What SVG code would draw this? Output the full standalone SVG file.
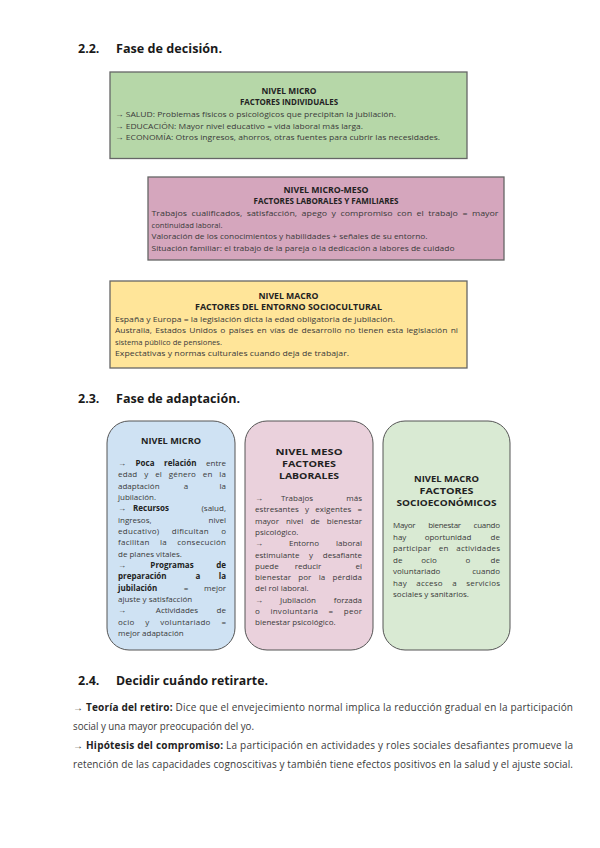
<svg xmlns="http://www.w3.org/2000/svg" width="600" height="848" viewBox="0 0 600 848">
<style>
text{font-family:"Open Sans","Noto Sans","Liberation Sans",sans-serif;fill:#3a3a3a}
.hd{font-size:12.5px;font-weight:bold;fill:#1a1a1a}
.b{font-size:8px}
.h{font-size:8px;font-weight:bold;fill:#222}
.h2{font-size:9.5px;font-weight:bold;fill:#222}
.bb{font-weight:bold;fill:#222}
.p{font-size:10px}
.m{text-anchor:middle}
.e{text-anchor:end}
.box{stroke:#666;stroke-width:1.3}
.rbox{stroke:#555;stroke-width:1}
</style>
<rect width="600" height="848" fill="#fff"/>

<g id="heading-2-2">
<text class="hd" x="78" y="52.5">2.2.</text>
<text class="hd" x="116" y="52.5" textLength="106" lengthAdjust="spacingAndGlyphs">Fase de decisión.</text>
</g>

<g id="nivel-micro">
<rect class="box" x="110" y="72" width="357" height="86.5" fill="#b6d7a8"/>
<text class="h m" x="289" y="94" textLength="55" lengthAdjust="spacingAndGlyphs">NIVEL MICRO</text>
<text class="h m" x="289" y="105" textLength="98" lengthAdjust="spacingAndGlyphs">FACTORES INDIVIDUALES</text>
<text class="b" x="115" y="117" textLength="281" lengthAdjust="spacingAndGlyphs">→ SALUD: Problemas físicos o psicológicos que precipitan la jubilación.</text>
<text class="b" x="115" y="128.5" textLength="248" lengthAdjust="spacingAndGlyphs">→ EDUCACIÓN: Mayor nivel educativo = vida laboral más larga.</text>
<text class="b" x="115" y="140" textLength="325" lengthAdjust="spacingAndGlyphs">→ ECONOMÍA: Otros ingresos, ahorros, otras fuentes para cubrir las necesidades.</text>
</g>

<g id="nivel-micro-meso">
<rect class="box" x="148" y="177" width="356" height="83" fill="#d5a6bd"/>
<text class="h m" x="326" y="193" textLength="85" lengthAdjust="spacingAndGlyphs">NIVEL MICRO-MESO</text>
<text class="h m" x="326" y="204" textLength="145" lengthAdjust="spacingAndGlyphs">FACTORES LABORALES Y FAMILIARES</text>
<text class="b" x="151.5" y="216" word-spacing="2" textLength="347" lengthAdjust="spacingAndGlyphs">Trabajos cualificados, satisfacción, apego y compromiso con el trabajo = mayor</text>
<text class="b" x="151.5" y="227.5" textLength="71" lengthAdjust="spacingAndGlyphs">continuidad laboral.</text>
<text class="b" x="151.5" y="239" textLength="276" lengthAdjust="spacingAndGlyphs">Valoración de los conocimientos y habilidades + señales de su entorno.</text>
<text class="b" x="151.5" y="250.5" textLength="303" lengthAdjust="spacingAndGlyphs">Situación familiar: el trabajo de la pareja o la dedicación a labores de cuidado</text>
</g>

<g id="nivel-macro">
<rect class="box" x="110" y="281" width="357" height="87" fill="#ffe599"/>
<text class="h m" x="288.5" y="299" textLength="60" lengthAdjust="spacingAndGlyphs">NIVEL MACRO</text>
<text class="h m" x="288.5" y="310" textLength="187" lengthAdjust="spacingAndGlyphs">FACTORES DEL ENTORNO SOCIOCULTURAL</text>
<text class="b" x="115" y="321.5" textLength="280" lengthAdjust="spacingAndGlyphs">España y Europa = la legislación dicta la edad obligatoria de jubilación.</text>
<text class="b" x="115" y="333" word-spacing="1" textLength="343" lengthAdjust="spacingAndGlyphs">Australia, Estados Unidos o países en vías de desarrollo no tienen esta legislación ni</text>
<text class="b" x="115" y="344.5" textLength="107" lengthAdjust="spacingAndGlyphs">sistema público de pensiones.</text>
<text class="b" x="115" y="356" textLength="234" lengthAdjust="spacingAndGlyphs">Expectativas y normas culturales cuando deja de trabajar.</text>
</g>

<g id="heading-2-3">
<text class="hd" x="78" y="402.5">2.3.</text>
<text class="hd" x="116" y="402.5" textLength="124" lengthAdjust="spacingAndGlyphs">Fase de adaptación.</text>
</g>

<g id="adapt-micro">
<rect class="rbox" x="107" y="421" width="128" height="229" rx="22" fill="#cfe2f3"/>
<text class="h2 m" x="171" y="443.5" textLength="60" lengthAdjust="spacingAndGlyphs">NIVEL MICRO</text>
<text class="b" x="118" y="466" word-spacing="7.5" textLength="108" lengthAdjust="spacing">→ <tspan class="bb">Poca relación</tspan> entre</text>
<text class="b" x="118" y="477.3" word-spacing="4.6" textLength="108" lengthAdjust="spacing">edad y el género en la</text>
<text class="b" x="118" y="488.7">adaptación</text><text class="b m" x="186" y="488.7">a</text><text class="b e" x="226" y="488.7">la</text>
<text class="b" x="118" y="500">jubilación.</text>
<text class="b" x="118" y="511.3">→</text><text class="b bb m" x="151" y="511.3">Recursos</text><text class="b e" x="226" y="511.3">(salud,</text>
<text class="b" x="118" y="522.7">ingresos,</text><text class="b e" x="226" y="522.7">nivel</text>
<text class="b" x="118" y="534" word-spacing="10" textLength="108" lengthAdjust="spacing">educativo) dificultan o</text>
<text class="b" x="118" y="545.3" word-spacing="8" textLength="108" lengthAdjust="spacing">facilitan la consecución</text>
<text class="b" x="118" y="556.7">de planes vitales.</text>
<text class="b" x="118" y="568">→</text><text class="b bb m" x="172" y="568">Programas</text><text class="b bb e" x="226" y="568">de</text>
<text class="b bb" x="118" y="579.3">preparación</text><text class="b bb m" x="198" y="579.3">a</text><text class="b bb e" x="226" y="579.3">la</text>
<text class="b bb" x="118" y="590.7">jubilación</text><text class="b m" x="186" y="590.7">=</text><text class="b e" x="226" y="590.7">mejor</text>
<text class="b" x="118" y="602">ajuste y satisfacción</text>
<text class="b" x="118" y="613.3">→</text><text class="b m" x="177" y="613.3">Actividades</text><text class="b e" x="226" y="613.3">de</text>
<text class="b" x="118" y="624.7" word-spacing="8.5" textLength="108" lengthAdjust="spacing">ocio y voluntariado =</text>
<text class="b" x="118" y="636">mejor adaptación</text>
</g>

<g id="adapt-meso">
<rect class="rbox" x="245" y="421" width="128" height="229" rx="22" fill="#ead1dc"/>
<text class="h2 m" x="309" y="454.5" textLength="67" lengthAdjust="spacingAndGlyphs">NIVEL MESO</text>
<text class="h2 m" x="309" y="466.5" textLength="54" lengthAdjust="spacingAndGlyphs">FACTORES</text>
<text class="h2 m" x="309" y="478.5" textLength="60" lengthAdjust="spacingAndGlyphs">LABORALES</text>
<text class="b" x="255" y="501">→</text><text class="b m" x="297" y="501">Trabajos</text><text class="b e" x="362" y="501">más</text>
<text class="b" x="255" y="512.3" word-spacing="4" textLength="107" lengthAdjust="spacing">estresantes y exigentes =</text>
<text class="b" x="255" y="523.6" word-spacing="5" textLength="107" lengthAdjust="spacing">mayor nivel de bienestar</text>
<text class="b" x="255" y="534.9">psicológico.</text>
<text class="b" x="255" y="546.2">→</text><text class="b m" x="304" y="546.2">Entorno</text><text class="b e" x="362" y="546.2">laboral</text>
<text class="b" x="255" y="557.5" word-spacing="7.5" textLength="107" lengthAdjust="spacing">estimulante y desafiante</text>
<text class="b" x="255" y="568.8">puede</text><text class="b m" x="308" y="568.8">reducir</text><text class="b e" x="362" y="568.8">el</text>
<text class="b" x="255" y="580.1" word-spacing="5" textLength="107" lengthAdjust="spacing">bienestar por la pérdida</text>
<text class="b" x="255" y="591.4">del rol laboral.</text>
<text class="b" x="255" y="602.7">→</text><text class="b" x="280" y="602.7">Jubilación</text><text class="b e" x="362" y="602.7">forzada</text>
<text class="b" x="255" y="614" word-spacing="8" textLength="107" lengthAdjust="spacing">o involuntaria = peor</text>
<text class="b" x="255" y="625.3">bienestar psicológico.</text>
</g>

<g id="adapt-macro">
<rect class="rbox" x="383" y="421" width="127" height="229" rx="22" fill="#d9ead3"/>
<text class="h2 m" x="446.5" y="481.5" textLength="65" lengthAdjust="spacingAndGlyphs">NIVEL MACRO</text>
<text class="h2 m" x="446.5" y="493.5" textLength="54" lengthAdjust="spacingAndGlyphs">FACTORES</text>
<text class="h2 m" x="446.5" y="505.5" textLength="100" lengthAdjust="spacingAndGlyphs">SOCIOECONÓMICOS</text>
<text class="b" x="393" y="528" word-spacing="11" textLength="107" lengthAdjust="spacing">Mayor bienestar cuando</text>
<text class="b" x="393" y="539.5">hay</text><text class="b m" x="448" y="539.5">oportunidad</text><text class="b e" x="500" y="539.5">de</text>
<text class="b" x="393" y="551" word-spacing="5.5" textLength="107" lengthAdjust="spacing">participar en actividades</text>
<text class="b" x="393" y="562.5">de</text><text class="b m" x="429" y="562.5">ocio</text><text class="b m" x="468" y="562.5">o</text><text class="b e" x="500" y="562.5">de</text>
<text class="b" x="393" y="574">voluntariado</text><text class="b e" x="500" y="574">cuando</text>
<text class="b" x="393" y="585.5" word-spacing="7" textLength="107" lengthAdjust="spacing">hay acceso a servicios</text>
<text class="b" x="393" y="597">sociales y sanitarios.</text>
</g>

<g id="heading-2-4">
<text class="hd" x="78" y="684.5">2.4.</text>
<text class="hd" x="116" y="684.5" textLength="152" lengthAdjust="spacingAndGlyphs">Decidir cuándo retirarte.</text>
</g>

<g id="paragraph">
<text class="p" x="73" y="710.5" textLength="500" lengthAdjust="spacing">→ <tspan class="bb">Teoría del retiro:</tspan> Dice que el envejecimiento normal implica la reducción gradual en la participación</text>
<text class="p" x="73" y="729.5" textLength="181" lengthAdjust="spacingAndGlyphs">social y una mayor preocupación del yo.</text>
<text class="p" x="73" y="748.5" textLength="500" lengthAdjust="spacing">→ <tspan class="bb">Hipótesis del compromiso:</tspan> La participación en actividades y roles sociales desafiantes promueve la</text>
<text class="p" x="73" y="767.5" textLength="500" lengthAdjust="spacing">retención de las capacidades cognoscitivas y también tiene efectos positivos en la salud y el ajuste social.</text>
</g>
</svg>
